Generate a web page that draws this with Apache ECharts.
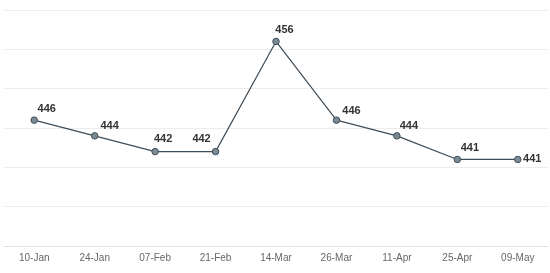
<!DOCTYPE html>
<html>
<head>
<meta charset="utf-8">
<script src="https://cdn.jsdelivr.net/npm/echarts@6/dist/echarts.min.js"></script>
<style>html,body{margin:0;padding:0;background:#fff;}#c{width:550px;height:273px;}</style>
</head>
<body>
<div id="c"></div>
<script>
var categories = ['10-Jan','24-Jan','07-Feb','21-Feb','14-Mar','26-Mar','11-Apr','25-Apr','09-May'];
var values = [446, 444, 442, 442, 456, 446, 444, 441, 441];

// label placement (style only): offset of each value label from its point
var labelOffsets = [[12.5,-11],[15,-10],[8,-12.5],[-14,-12.5],[8.5,-11],[15,-9.5],[12,-10],[12.5,-11],[14.5,0]];

var chart = echarts.init(document.getElementById('c'), null, {renderer: 'canvas'});
var data = values.map(function (v, i) {
  return {value: v, label: {offset: labelOffsets[i]}};
});
chart.setOption({
  animation: false,
  backgroundColor: '#ffffff',
  grid: {left: 4, right: 2, top: 10, bottom: 27, containLabel: false},
  xAxis: {
    type: 'category',
    data: categories,
    boundaryGap: true,
    axisLine: {show: true, lineStyle: {color: '#e2e2e2', width: 1}},
    axisTick: {show: false},
    axisLabel: {color: '#666', fontSize: 10, fontFamily: 'Liberation Sans, Arial, sans-serif', margin: 7}
  },
  yAxis: {
    type: 'value',
    min: 430,
    max: 460,
    interval: 5,
    axisLine: {show: false},
    axisTick: {show: false},
    axisLabel: {show: false},
    splitLine: {lineStyle: {color: '#ececec', width: 1}}
  },
  series: [{
    type: 'line',
    data: data,
    symbol: 'circle',
    symbolSize: 6.5,
    lineStyle: {color: '#3f4d58', width: 1.2},
    itemStyle: {color: '#7a8b96', borderColor: '#3f4d58', borderWidth: 1},
    label: {
      show: true,
      position: 'inside',
      align: 'center',
      verticalAlign: 'middle',
      color: '#333',
      fontSize: 11,
      fontWeight: 'bold',
      fontFamily: 'Liberation Sans, Arial, sans-serif'
    }
  }]
});
</script>
</body>
</html>
